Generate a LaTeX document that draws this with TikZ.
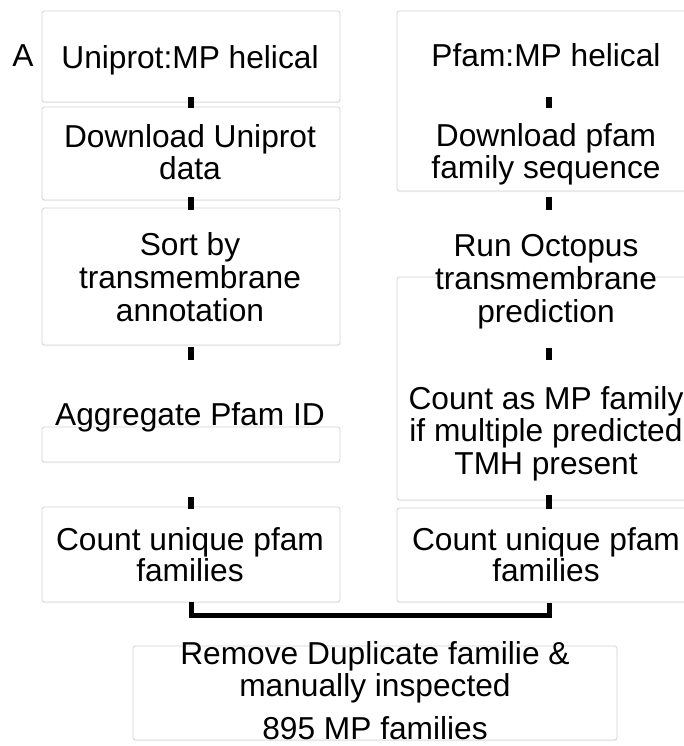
\documentclass[tikz,border=0pt]{standalone}
\usepackage{fontspec}
\setmainfont{Liberation Sans}
\usetikzlibrary{shadows}
\newcommand\mlines[2][30]{\fontsize{31.7}{#1}\selectfont\begin{tabular}[t]{@{}c@{}}#2\end{tabular}}
\begin{document}
\begin{tikzpicture}[x=1pt,y=-1pt,
  flowbox/.style={draw={rgb,255:red,212;green,212;blue,212}, line width=0.8pt, rounded corners=2.5pt, fill=white,
    drop shadow={shadow xshift=0pt, shadow yshift=-1.2pt, opacity=0.10}},
  txt/.style={anchor=base, inner sep=0pt},
  plaintxt/.style={anchor=base, inner sep=0pt, font=\fontsize{31.7}{30}\selectfont},
  bar/.style={line width=6pt},
  bracketline/.style={line width=5pt, line join=miter}]
\clip (0,0) rectangle (684,746);
\fill[white] (0,0) rectangle (684,746);
% boxes, left column
\path[flowbox] (42,11) rectangle (340,102);
\path[flowbox] (42,107) rectangle (340,200);
\path[flowbox] (42,208) rectangle (340,345);
\path[flowbox] (42,427) rectangle (340,462);
\path[flowbox] (42,507) rectangle (340,602);
% boxes, right column
\path[flowbox] (397,11) rectangle (700,191);
\path[flowbox] (397,277) rectangle (700,500);
\path[flowbox] (397,508) rectangle (700,602);
% bottom box
\path[flowbox] (133,646) rectangle (617,740);
% texts
\node[plaintxt] (lblA) at (23,67) {A};
\node[plaintxt] (l1) at (190,69) {Uniprot:MP helical};
\node[txt] (l2) at (190,148) {\mlines[30]{Download Uniprot\\data}};
\node[txt] (l3) at (190,255) {\mlines[33]{Sort by\\transmembrane\\annotation}};
\node[plaintxt] (l4) at (190,425) {Aggregate Pfam ID};
\node[txt] (l5) at (190,550) {\mlines[30]{Count unique pfam\\families}};
\node[plaintxt] (r1) at (546,67) {Pfam:MP helical};
\node[txt] (r2) at (546,147) {\mlines[30]{Download pfam\\family sequence}};
\node[txt] (r3) at (546,256) {\mlines[33]{Run Octopus\\transmembrane\\prediction}};
\node[txt] (r4) at (546,409) {\mlines[32.5]{Count as MP family\\if multiple predicted\\TMH present}};
\node[txt] (r5) at (546,550) {\mlines[30]{Count unique pfam\\families}};
\node[txt] (m1) at (375,664) {\mlines[32]{Remove Duplicate familie \&\\manually inspected}};
\node[plaintxt] (m2) at (375,739) {895 MP families};
% connector bars
\coordinate (la1) at (191,97);  \coordinate (lb1) at (191,108);
\coordinate (la2) at (191,197); \coordinate (lb2) at (191,210);
\coordinate (la3) at (191,347); \coordinate (lb3) at (191,360);
\coordinate (la4) at (191,497); \coordinate (lb4) at (191,509);
\coordinate (ra1) at (549,97);  \coordinate (rb1) at (549,108);
\coordinate (ra2) at (549,197); \coordinate (rb2) at (549,210);
\coordinate (ra3) at (549,348); \coordinate (rb3) at (549,360);
\coordinate (ra4) at (549,495); \coordinate (rb4) at (549,509);
\foreach \i in {1,2,3,4} {
  \draw[bar] (la\i) -- (lb\i);
  \draw[bar] (ra\i) -- (rb\i);
}
% bracket joining both columns
\coordinate (bl) at (191,602);
\coordinate (br) at (549,603);
\draw[bracketline] (bl) -- (191,615) -- (549,615) -- (br);
\end{tikzpicture}
\end{document}
